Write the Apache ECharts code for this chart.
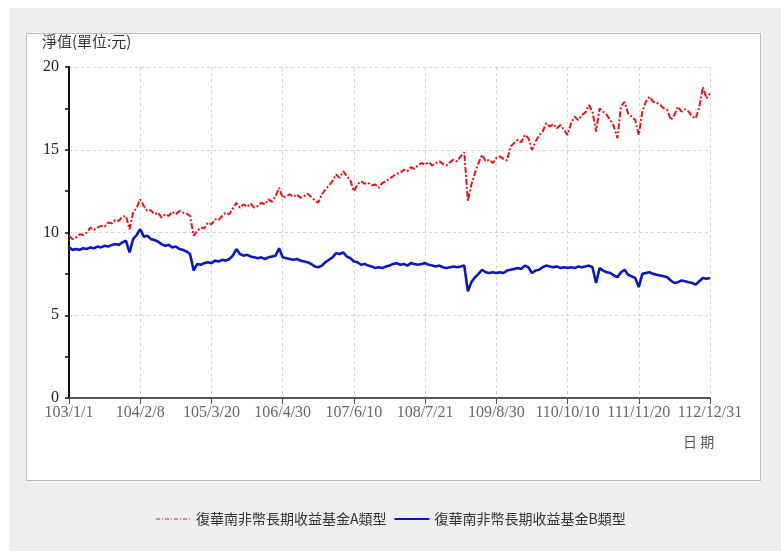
<!DOCTYPE html>
<html><head><meta charset="utf-8">
<script src="https://cdn.jsdelivr.net/npm/echarts@6/dist/echarts.min.js"></script>
<style>
html,body{margin:0;padding:0;background:#fff;width:781px;height:551px;overflow:hidden;}
#bg{position:absolute;left:9px;top:8px;width:772px;height:543px;background:#efefef;}
#panel{position:absolute;left:26px;top:33px;width:733px;height:446px;background:#fff;border:1px solid #bdbdbd;}
#chart{position:absolute;left:0;top:0;width:781px;height:551px;}
</style></head>
<body>
<div id="bg"></div><div id="panel"></div><div id="chart"></div>
<script>
const xTickLabels = ['103/1/1','104/2/8','105/3/20','106/4/30','107/6/10','108/7/21','109/8/30','110/10/10','111/11/20','112/12/31'];
const seriesNames = ['復華南非幣長期收益基金A類型','復華南非幣長期收益基金B類型'];
const navA = [
9.8,9.6,9.7,9.9,9.85,10.0,10.3,10.15,10.3,10.4,10.35,10.6,10.55,10.75,10.7,10.95,11.0,10.2,11.2,11.5,12.0,
11.6,11.3,11.35,11.1,11.2,10.9,11.1,11.0,11.25,11.1,11.3,11.2,11.15,11.0,9.8,10.1,10.3,10.25,10.6,10.5,
10.8,10.75,11.0,11.2,11.1,11.45,11.8,11.5,11.7,11.55,11.75,11.5,11.6,11.8,11.7,12.0,11.85,12.2,12.7,12.1,
12.2,12.3,12.15,12.3,12.1,12.2,12.35,12.15,11.95,11.8,12.3,12.6,12.85,13.1,13.5,13.3,13.7,13.4,13.15,12.5,
12.9,13.1,12.95,13.0,12.85,12.9,12.7,13.0,13.1,13.25,13.4,13.55,13.6,13.8,13.7,13.95,13.85,14.05,14.2,14.1,
14.25,14.05,14.2,14.3,14.15,14.05,14.25,14.4,14.3,14.6,14.85,11.9,12.9,13.6,14.2,14.7,14.3,14.4,14.2,14.5,
14.6,14.45,14.35,15.2,15.4,15.6,15.45,15.9,15.7,15.0,15.5,15.85,16.1,16.6,16.4,16.55,16.3,16.5,16.2,15.9,
16.6,17.0,16.8,17.1,17.25,17.7,17.3,16.1,17.5,17.3,17.1,16.8,16.4,15.7,17.6,17.9,17.2,17.0,16.8,15.9,
17.3,17.9,18.2,17.9,17.85,17.7,17.5,17.4,16.8,17.1,17.6,17.3,17.45,17.3,17.0,16.9,17.6,18.8,18.1,18.4
];
const navB = [
9.1,8.95,9.0,8.95,9.05,9.0,9.1,9.05,9.15,9.1,9.2,9.15,9.25,9.3,9.25,9.4,9.5,8.8,9.6,9.85,10.2,
9.75,9.8,9.6,9.55,9.45,9.3,9.2,9.25,9.1,9.15,9.0,8.95,8.85,8.7,7.7,8.1,8.05,8.15,8.2,8.15,
8.3,8.25,8.35,8.3,8.4,8.6,9.0,8.7,8.6,8.65,8.55,8.5,8.45,8.5,8.4,8.5,8.55,8.6,9.05,8.5,
8.45,8.4,8.35,8.4,8.3,8.25,8.2,8.1,7.95,7.9,8.0,8.2,8.35,8.5,8.75,8.7,8.8,8.55,8.45,8.25,
8.2,8.05,8.1,8.0,7.95,7.85,7.9,7.85,7.95,8.0,8.1,8.15,8.05,8.1,8.0,8.15,8.1,8.05,8.1,8.15,
8.05,8.0,7.95,8.0,7.9,7.85,7.9,7.95,7.9,7.95,8.0,6.45,7.0,7.3,7.5,7.75,7.6,7.55,7.6,7.55,
7.6,7.55,7.7,7.75,7.8,7.85,7.8,8.0,7.9,7.55,7.7,7.75,7.9,8.0,7.95,7.9,7.95,7.85,7.9,7.85,
7.9,7.85,7.95,7.9,7.95,8.0,7.9,6.95,7.85,7.7,7.6,7.55,7.4,7.3,7.6,7.75,7.45,7.35,7.25,6.7,
7.5,7.55,7.6,7.5,7.45,7.4,7.35,7.3,7.1,6.95,7.0,7.1,7.05,7.0,6.95,6.85,7.05,7.25,7.2,7.25
];
const stepsPerTick = 20;
const serif = 'Liberation Serif, DejaVu Serif, serif';
const cjk = '"Noto Sans CJK TC", "Noto Sans CJK SC", sans-serif';
const redColor = '#e3151b';
const blueColor = '#0c18bf';

const chart = echarts.init(document.getElementById('chart'), null, {renderer:'canvas'});
chart.setOption({
  backgroundColor: 'transparent',
  animation: false,
  grid: {left: 69, right: 71, top: 67, bottom: 153, containLabel: false},
  legend: {
    left: 'center', top: 507, itemWidth: 35, itemHeight: 10, itemGap: 7,
    textStyle: {fontFamily: cjk, fontSize: 14, color: '#333'},
    itemStyle: {color: 'transparent', borderColor: 'transparent', borderWidth: 0},
    data: [
      {name: seriesNames[0], lineStyle: {width: 1.2, type: [4, 2, 1, 2]}},
      {name: seriesNames[1], lineStyle: {width: 2}}
    ]
  },
  xAxis: {
    type: 'value', min: 0, max: (xTickLabels.length - 1) * stepsPerTick, interval: stepsPerTick,
    axisLine: {show: true, onZero: false, lineStyle: {color: '#555', width: 2}},
    axisTick: {show: true, length: 6, lineStyle: {color: '#555', width: 1}},
    axisLabel: {
      margin: 7, color: '#666', fontFamily: serif, fontSize: 16,
      formatter: v => xTickLabels[Math.round(v / stepsPerTick)] || ''
    },
    splitLine: {show: true, lineStyle: {color: '#d4d4d4', type: [3, 3], width: 1}}
  },
  yAxis: {
    type: 'value', min: 0, max: 20, interval: 5,
    axisLine: {show: true, lineStyle: {color: '#111', width: 2}},
    axisTick: {show: true, length: 4, lineStyle: {color: '#111', width: 1.5}},
    minorTick: {show: true, splitNumber: 2, length: 4, lineStyle: {color: '#111', width: 1.5}},
    axisLabel: {margin: 10, color: '#222', fontFamily: serif, fontSize: 16},
    splitLine: {show: true, lineStyle: {color: '#d4d4d4', type: [3, 3], width: 1}}
  },
  graphic: [
    {type: 'text', left: 42, top: 34, style: {text: '淨值(單位:元)', font: '15px ' + cjk, fill: '#333'}},
    {type: 'text', left: 683, top: 435, style: {text: '日 期', font: '14px ' + cjk, fill: '#555'}}
  ],
  series: [
    {
      name: seriesNames[0], type: 'line', symbol: 'none', smooth: false,
      data: navA.map((v, i) => [i, v]),
      lineStyle: {color: redColor, width: 2, type: [6, 2, 2, 2]},
      itemStyle: {color: redColor}, z: 3
    },
    {
      name: seriesNames[1], type: 'line', symbol: 'none', smooth: false,
      data: navB.map((v, i) => [i, v]),
      lineStyle: {color: blueColor, width: 2.6},
      itemStyle: {color: blueColor}, z: 2
    }
  ]
});
</script>
</body></html>
